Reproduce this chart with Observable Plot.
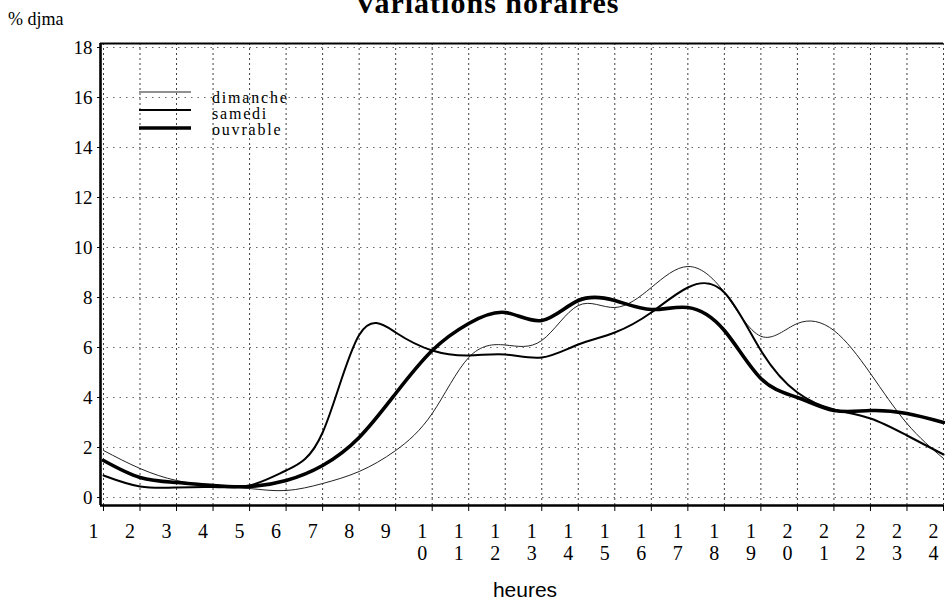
<!DOCTYPE html>
<html>
<head>
<meta charset="utf-8">
<script src="https://cdn.jsdelivr.net/npm/d3@7"></script>
<script src="https://cdn.jsdelivr.net/npm/@observablehq/plot@0.6"></script>
<style>
  html, body { margin: 0; padding: 0; background: #fff; }
  #wrap { position: relative; width: 945px; height: 603px; overflow: hidden; }
  #wrap > svg { position: absolute; left: 0; top: 0; }
</style>
</head>
<body>
<div id="wrap"></div>
<script>
// ---- data ----
const hours = [1,2,3,4,5,6,7,8,9,10,11,12,13,14,15,16,17,18,19,20,21,22,23,24];
const yTicks = [0,2,4,6,8,10,12,14,16,18];
const seriesNames = ["dimanche", "samedi", "ouvrable"];
const dimanche = [1.88,1.16,0.68,0.48,0.36,0.28,0.56,1.04,1.88,3.36,5.6,6.1,6.28,7.68,7.6,8.4,9.24,8.2,6.45,6.96,6.68,4.96,2.96,1.56];
const samedi   = [0.88,0.44,0.4,0.42,0.48,1.08,2.6,6.5,6.6,5.88,5.68,5.72,5.6,6.12,6.6,7.4,8.4,8.2,5.88,4.2,3.52,3.16,2.48,1.72];
const ouvrable = [1.48,0.8,0.6,0.48,0.44,0.68,1.28,2.4,4.16,5.88,6.96,7.4,7.08,7.88,7.88,7.52,7.6,6.68,4.76,4.0,3.48,3.48,3.36,3.0];
const titleText = "Variations horaires";
const yLabel = "% djma";
const xLabel = "heures";

// ---- build ----
const serif = "'Liberation Serif', 'Times New Roman', serif";
const sans = "'Liberation Sans', Arial, sans-serif";
const styles = {
  dimanche: {strokeWidth: 1, stroke: "#222"},
  samedi: {strokeWidth: 2, stroke: "#000"},
  ouvrable: {strokeWidth: 3.6, stroke: "#000"}
};
const valuesBy = {dimanche, samedi, ouvrable};
const rows = name => hours.map((h, i) => ({h, v: valuesBy[name][i], serie: name}));

const xDom = [0.918, 24];
const yDom = [-0.32, 18.16];

const chart = Plot.plot({
  width: 945,
  height: 603,
  marginLeft: 100,
  marginRight: 2,
  marginTop: 43,
  marginBottom: 98,
  x: {domain: xDom, axis: null},
  y: {domain: yDom, axis: null},
  style: {background: "white", fontFamily: serif, color: "#000"},
  marks: [
    Plot.gridY(yTicks, {stroke: "#000", strokeOpacity: 0.6, strokeDasharray: "1.5,5", strokeWidth: 1}),
    Plot.gridX(hours, {stroke: "#000", strokeOpacity: 0.75, strokeDasharray: "2,3", strokeWidth: 1}),
    Plot.axisX({ticks: hours, tickSize: 6, tickFormat: () => "", label: null, stroke: "#000"}),
    Plot.axisY({ticks: yTicks, tickSize: 3, tickFormat: () => "", label: null, stroke: "#000"}),
    Plot.text(hours, {
      x: d => d,
      text: d => String(d).split("").join("\n"),
      frameAnchor: "bottom",
      lineAnchor: "top",
      dy: 17,
      dx: -10,
      fontSize: 20,
      lineHeight: 1.1,
      fontFamily: serif,
      fill: "#000"
    }),
    Plot.text(yTicks, {
      y: d => d,
      text: d => String(d),
      frameAnchor: "left",
      textAnchor: "end",
      dx: -8,
      fontSize: 19,
      fontFamily: serif,
      fill: "#000"
    }),
    ...seriesNames.map(name => Plot.line(rows(name), {
      x: "h", y: "v", curve: "natural",
      stroke: styles[name].stroke,
      strokeWidth: styles[name].strokeWidth,
      strokeLinejoin: "round"
    })),
    Plot.ruleX([xDom[0]], {stroke: "#000", strokeWidth: 2.6}),
    Plot.ruleY([yDom[0]], {stroke: "#000", strokeWidth: 2.6}),
    Plot.ruleY([yDom[1]], {stroke: "#000", strokeWidth: 2.2})
  ]
});
document.getElementById("wrap").appendChild(chart);

// ---- overlay: title, axis titles, legend ----
const ov = d3.select("#wrap").append("svg")
  .attr("width", 945).attr("height", 603)
  .style("position", "absolute").style("left", 0).style("top", 0)
  .style("pointer-events", "none");

ov.append("text").text(titleText)
  .attr("x", 487).attr("y", 13)
  .attr("text-anchor", "middle")
  .attr("font-family", serif).attr("font-weight", "bold")
  .attr("font-size", 30).attr("letter-spacing", 1);

ov.append("text").text(yLabel)
  .attr("x", 8).attr("y", 25)
  .attr("font-family", serif).attr("font-size", 18);

ov.append("text").text(xLabel)
  .attr("x", 525).attr("y", 597)
  .attr("text-anchor", "middle")
  .attr("font-family", sans).attr("font-size", 21);

const lg = ov.append("g");
const legY = [92, 110, 128];
const legTextY = [103, 119, 135];
seriesNames.forEach((name, i) => {
  lg.append("line")
    .attr("x1", 139).attr("x2", 191)
    .attr("y1", legY[i]).attr("y2", legY[i])
    .attr("stroke", styles[name].stroke)
    .attr("stroke-width", styles[name].strokeWidth);
  lg.append("text").text(name)
    .attr("x", 212).attr("y", legTextY[i])
    .attr("font-family", serif).attr("font-size", 16)
    .attr("letter-spacing", 1.8);
});
</script>
</body>
</html>
